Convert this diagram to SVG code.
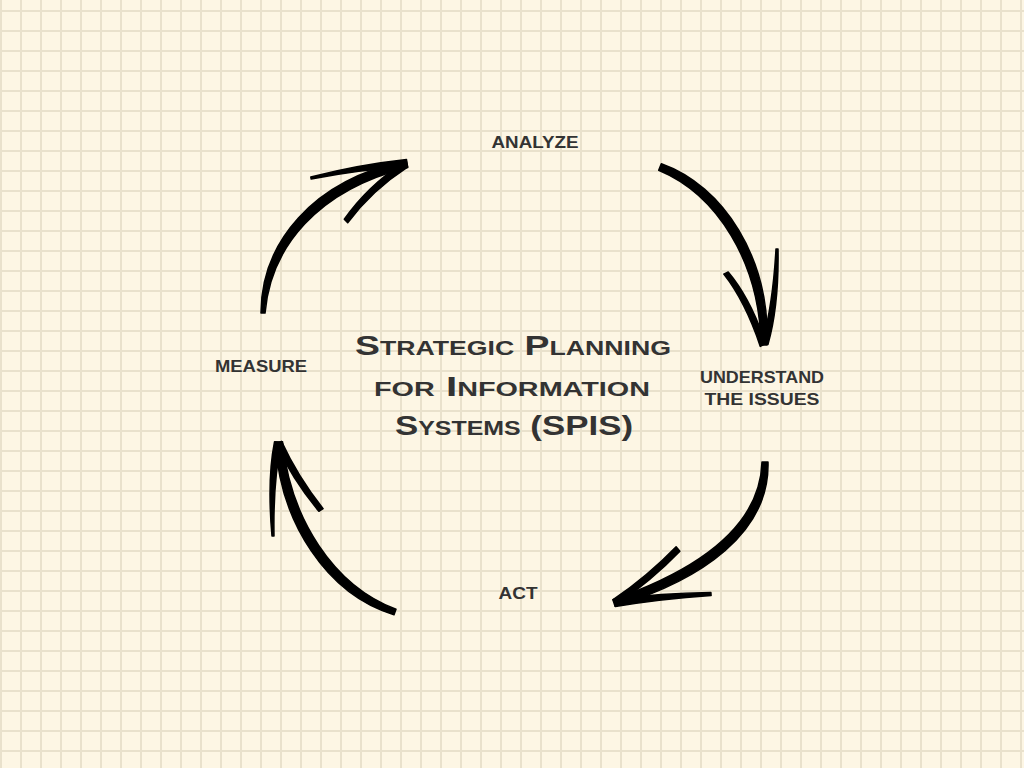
<svg xmlns="http://www.w3.org/2000/svg" width="1024" height="768" viewBox="0 0 1024 768">
  <defs>
    <pattern id="grid" width="20" height="20" patternUnits="userSpaceOnUse" x="11" y="1">
      <path d="M0,10H20M10,0V20" stroke="#e9e1cc" stroke-width="2" fill="none"/>
    </pattern>
    <style>
      .lbl { font-family: "Liberation Sans", Arial, sans-serif; font-weight: bold; font-size: 16.5px; fill: #333333; text-anchor: middle; }
      .title { font-family: "Liberation Sans", Arial, sans-serif; font-weight: bold; font-size: 28px; font-variant: small-caps; fill: #333333; text-anchor: middle; }
      .ink { fill: #000; stroke: #000; stroke-width: 1.5; stroke-linejoin: round; }
    </style>
  </defs>
  <rect width="1024" height="768" fill="#fdf6e4"/>
  <rect width="1024" height="768" fill="url(#grid)"/>

  <g id="connectors">
    <g id="arrow-measure-analyze">
      <path class="ink" d="M261,312.9 C261.3,243.2 312.1,180.3 406.2,160.6 L407.8,167.4 C317.9,189.7 270.7,246.8 265,313.1 Z"/>
      <path class="ink" d="M310.8,177 Q359.6,164.5 406.5,159.5 L407.5,166.5 Q360.4,169.5 311.2,179 Z"/>
      <path class="ink" d="M344.3,219.2 Q367.9,185.8 401.9,163.8 L406.1,168.2 Q372.1,190.2 347.7,222.8 Z"/>
    </g>
    <g id="arrow-analyze-understand">
      <path class="ink" d="M661.3,163.7 C723.5,185.7 770.3,258.5 767,345 L761,345 C759.7,261.5 716.5,194.3 658.7,170.3 Z"/>
      <path class="ink" d="M728.2,271.9 Q750.7,298.6 765.7,343.6 L760.3,346.4 Q745.3,301.4 723.8,274.1 Z"/>
      <path class="ink" d="M778,249.1 Q779,305.4 768,344.4 L762,343.6 Q773,304.6 776,248.9 Z"/>
    </g>
    <g id="arrow-understand-act">
      <path class="ink" d="M768,462 C769.9,532.6 702.4,579.9 615.1,606.3 L612.9,599.7 C697.6,570.1 760.1,527.4 762,462 Z"/>
      <path class="ink" d="M679.9,551.3 Q651.9,580.3 616.9,604.3 L613.1,599.7 Q648.1,575.7 676.1,546.7 Z"/>
      <path class="ink" d="M711.1,595.5 Q660.3,599 615.3,606.5 L614.7,599.5 Q659.7,593 710.9,592.5 Z"/>
    </g>
    <g id="arrow-act-measure">
      <path class="ink" d="M394,614.8 C326.6,594.3 279.8,521.8 275.5,442.3 L282.5,441.7 C290.2,518.2 333.4,585.7 396,609.2 Z"/>
      <path class="ink" d="M272,535.9 Q267,479.8 274.5,441.8 L281.5,442.2 Q273,480.2 274,536.1 Z"/>
      <path class="ink" d="M318.9,511.3 Q292.5,479.6 276.5,444.6 L281.5,441.4 Q297.5,476.4 323.1,508.7 Z"/>
    </g>
  </g>

  <g id="node-title">
    <text class="title" x="513" y="355" textLength="316" lengthAdjust="spacingAndGlyphs">Strategic Planning</text>
    <text class="title" x="512" y="396" textLength="276" lengthAdjust="spacingAndGlyphs">for Information</text>
    <text class="title" x="514" y="435" textLength="238" lengthAdjust="spacingAndGlyphs">Systems (SPIS)</text>
  </g>
  <g id="node-analyze">
    <text class="lbl" x="535" y="148" textLength="87" lengthAdjust="spacingAndGlyphs">ANALYZE</text>
  </g>
  <g id="node-understand">
    <text class="lbl" x="762" y="383" textLength="124" lengthAdjust="spacingAndGlyphs">UNDERSTAND</text>
    <text class="lbl" x="762" y="405" textLength="115" lengthAdjust="spacingAndGlyphs">THE ISSUES</text>
  </g>
  <g id="node-act">
    <text class="lbl" x="518" y="599" textLength="39" lengthAdjust="spacingAndGlyphs">ACT</text>
  </g>
  <g id="node-measure">
    <text class="lbl" x="261" y="372" textLength="92" lengthAdjust="spacingAndGlyphs">MEASURE</text>
  </g>
</svg>
